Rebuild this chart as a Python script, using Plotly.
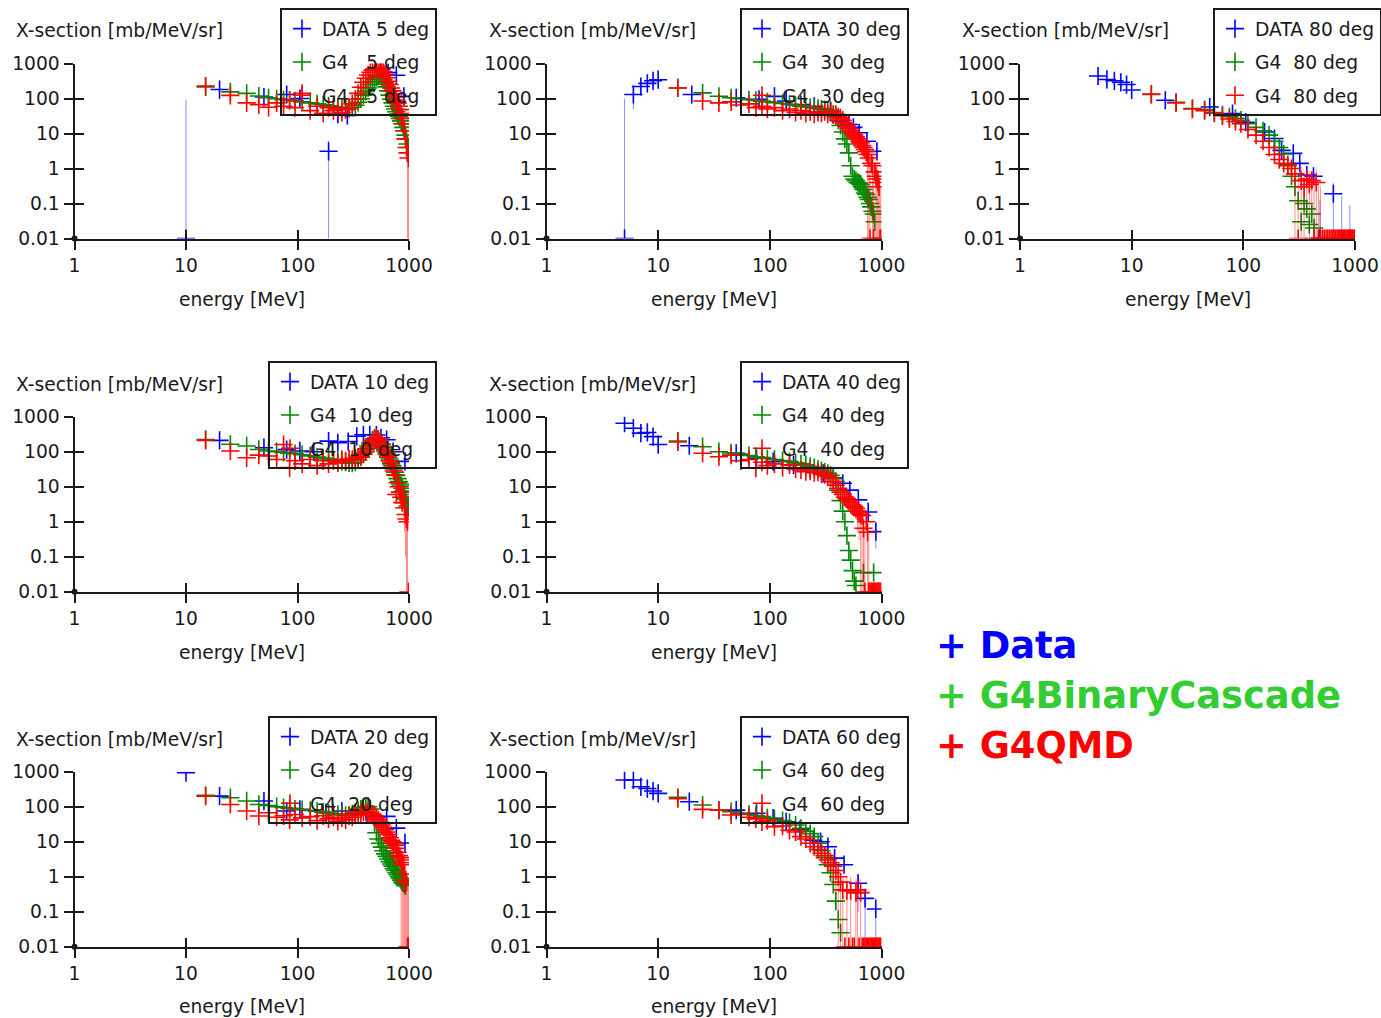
import plotly.graph_objects as go

# ---------------------------------------------------------------- data
E_G4 = [15, 25, 35, 45, 55, 65, 75, 85, 95,
        110, 130, 150, 170, 190, 210, 230, 250, 270, 290,
        310, 330, 350, 370, 390, 410, 430, 450, 470, 490,
        510, 530, 550, 570, 590, 610, 630, 650, 670, 690,
        710, 730, 750, 770, 790, 810, 830, 850, 870, 890,
        910, 930, 950, 970, 990]

X_TICKS = [1, 10, 100, 1000]
X_TICK_TEXT = ["1", "10", "100", "1000"]
Y_TICKS = [0.01, 0.1, 1, 10, 100, 1000]
Y_TICK_TEXT = ["0.01", "0.1", "1", "10", "100", "1000"]

# ---- 5 deg
DATA_E_5 = [10, 20, 50, 80, 105, 190, 230, 280, 560, 650, 770, 900]
DATA_Y_5 = [0.01, 180, 110, 130, 100, 3.1, 36, 33, 700, 550, 460, 115]
DATA_ERR_5 = [93, 8, 6, 7, 6, 3.1, 15, 14, 30, 25, 25, 10]
BIC_5 = [215, 155, 140, 118, 105, 98, 92, 88, 85,
         80, 75, 70, 66, 62, 58, 55, 52, 50, 52,
         56, 64, 78, 98, 125, 160, 200, 250, 300, 350,
         400, 435, 440, 410, 350, 280, 215, 165, 125, 95,
         75, 60, 50, 42, 36, 31, 27, 23, 19, 15,
         12, 9, 7, 5, 4]
QMD_5 = [225, 123, 75, 67, 56, 75, 60, 90, 55,
         140, 45, 60, 38, 55, 45, 50, 40, 48, 55,
         70, 95, 140, 210, 290, 380, 470, 560, 640, 700,
         740, 750, 720, 660, 580, 480, 390, 310, 250, 200,
         165, 135, 110, 90, 74, 60, 48, 37, 27, 19,
         12, 7, 4, 2.8, 2.0]
QMD_ERR_5 = [0] * 49 + [3, 3, 2.5, 2.8, 2.0]

# ---- 30 deg
DATA_E_30 = [5, 6, 7, 8, 9, 10, 20, 50, 80, 110, 140, 190, 250, 350, 430, 510, 560, 630, 740, 910]
DATA_Y_30 = [0.01, 130, 220, 270, 320, 345, 130, 105, 95, 115, 85, 67, 60, 45, 22, 18, 15, 10.5, 6, 3.1]
DATA_ERR_30 = [100, 80, 30, 30, 30, 30, 8, 6, 6, 6, 5, 4, 4, 3, 2, 2, 1.5, 1.2, 1, 0.8]
BIC_30 = [200, 145, 116, 105, 98, 92, 88, 84, 80,
          76, 72, 68, 64, 60, 58, 56, 54, 52, 50,
          48, 46, 42, 35, 30, 24, 17, 11, 7, 5,
          2.8, 1.2, 0.6, 0.5, 0.45, 0.4, 0.38, 0.35, 0.3, 0.25,
          0.2, 0.18, 0.15, 0.13, 0.1, 0.08, 0.06, 0.05, 0.03, None,
          None, None, None, None, None]
QMD_30 = [200, 85, 75, 80, 65, 70, 55, 60, 50,
          55, 45, 50, 40, 45, 38, 42, 36, 40, 38,
          42, 36, 40, 34, 35, 30, 28, 24, 20, 16,
          14, 12, 10, 9, 8, 7, 6, 5.5, 4.5, 4,
          3.5, 3, 2.5, 2, 0.01, 1.4, 1.2, 0.01, 0.8, 0.6,
          0.5, 0.4, 0.3, 0.01, 0.01]
QMD_ERR_30 = [0] * 36 + [1, 1, 1.2, 1.2, 1.5, 2.5, 2, 2, 0.3, 1.4, 1.2, 0.3, 0.8, 0.6, 0.5, 0.4, 0.3, 0.3]

# ---- 80 deg
DATA_E_80 = [5, 6, 7, 8, 9, 10, 20, 50, 80, 105, 155, 190, 220, 280, 320, 370, 425, 485, 640, 760, 900]
DATA_Y_80 = [440, 350, 320, 290, 250, 175, 89, 57, 37, 21, 11, 7.2, 3.3, 2.7, 1.4, 0.65, 0.6, 0.01, 0.19, 0.01, 0.01]
DATA_ERR_80 = [20, 15, 15, 15, 12, 10, 4, 3, 2, 1.2, 0.7, 0.5, 0.3, 0.3, 0.2, 0.15, 0.15, 0.12, 0.19, 0.15, 0.08]
BIC_80 = [130, 78, 52, 48, 40, 34, 30, 27, 24,
          19, 15, 12, 9, 6, 4, 2.6, 1.3, 0.6, 0.3,
          0.12, 0.03, 0.1, 0.07, 0.025, 0.05, 0.02, None, None, None] + [None] * 25
QMD_80 = [133, 75, 50, 45, 38, 32, 26, 22, 19,
          13, 9, 6, 4, 2.5, 1.8, 1.4, 1.2, 1.0, 0.7,
          0.01, 0.45, 0.3, 0.5, 0.35, 0.45, 0.01, 0.4, 0.01, 0.01] + [0.01] * 25
QMD_ERR_80 = [0] * 16 + [0.6, 0.6, 0.7, 0.6, 0.7, 0.5, 0.4, 0.5, 0.4, 0.5, 0.6, 0.4, 0.3] + [0] * 25

# ---- 10 deg
DATA_E_10 = [20, 50, 80, 105, 140, 190, 230, 285, 340, 390, 445, 510, 560, 630, 720, 920]
DATA_Y_10 = [210, 130, 115, 105, 100, 200, 180, 195, 275, 305, 305, 300, 250, 220, 100, 53]
DATA_ERR_10 = [10, 7, 6, 6, 6, 10, 9, 10, 14, 15, 15, 15, 12, 11, 5, 3]
BIC_10 = [224, 163, 146, 116, 105, 100, 95, 90, 88,
          82, 76, 70, 66, 62, 58, 55, 52, 50, 48,
          47, 50, 58, 70, 90, 115, 145, 180, 215, 235,
          230, 215, 190, 165, 140, 115, 95, 78, 62, 50,
          40, 32, 26, 21, 17, 14, 12, 10.5, 9, 7.5,
          6, 4.5, 3.5, 2.8, 2.5]
QMD_10 = [210, 105, 67, 80, 75, 60, 160, 35, 55,
          45, 60, 40, 55, 45, 55, 48, 60, 55, 62,
          60, 65, 70, 75, 85, 100, 125, 160, 200, 235,
          250, 230, 195, 160, 130, 105, 85, 70, 55, 45,
          36, 28, 22, 6, 13, 10, 7, 5, 3.5, 5,
          2.5, 1.6, 1.2, 1.0, 0.01]
QMD_ERR_10 = [0] * 45 + [2, 1.5, 1.5, 1.2, 2, 1.5, 1.2, 1.1, 0]

# ---- 40 deg
DATA_E_40 = [5, 6, 7, 8, 9, 10, 19, 50, 76, 107, 163, 230, 300, 370, 450, 520, 620, 760, 890]
DATA_Y_40 = [650, 470, 340, 355, 270, 160, 148, 90, 65, 52, 42, 32, 24, 18, 12.5, 8, 4.2, 1.9, 0.52]
DATA_ERR_40 = [30, 25, 17, 18, 14, 8, 7, 5, 3, 3, 2, 2, 1.2, 1, 0.7, 0.5, 0.4, 0.4, 0.35]
BIC_40 = [202, 139, 100, 92, 85, 78, 72, 68, 64,
          60, 56, 52, 48, 45, 42, 38, 35, 32, 29,
          26, 24, 21, 17, 14, 8, 4, 2, 1.0, 0.4,
          0.15, 0.08, 0.04, 0.02, 0.015, None, None, None, None, 0.035,
          None, None, None, None, None, None, None, 0.035, None, None,
          None, None, None, None, None]
QMD_40 = [190, 90, 72, 80, 55, 60, 34, 50, 40,
          45, 35, 42, 32, 30, 27, 28, 25, 26, 23,
          22, 20, 18, 14, 11, 9, 7, 6, 5, 4.5,
          4, 3.5, 3, 2.7, 2.4, 2, 1.8, 1.6, 1.5, 0.65,
          0.01, 1.0, 0.5, 0.01, 0.01, 0.01, 0.01, 0.01, 0.01, 0.01,
          0.01, 0.01, 0.01, 0.01, 0.01]
QMD_ERR_40 = [0] * 30 + [1, 1, 1.2, 1.2, 1.5, 1.5, 1.6, 1.6, 1.5, 0.7, 0, 1.0, 0.5] + [0] * 11

# ---- 20 deg
DATA_E_20 = [10, 20, 50, 80, 105, 180, 250, 330, 420, 490, 630, 770, 920]
DATA_Y_20 = [940, 200, 145, 75, 84, 67, 75, 65, 60, 54, 53, 24.5, 9.2]
DATA_ERR_20 = [40, 10, 7, 4, 4, 3, 4, 3, 3, 3, 3, 1.5, 0.8]
BIC_20 = [210, 181, 146, 116, 108, 100, 95, 90, 86,
          82, 78, 74, 70, 66, 63, 60, 58, 57, 58,
          62, 68, 76, 85, 95, 102, 100, 85, 60, 35,
          18, 12, 9, 7, 5.5, 4.5, 3.8, 3.2, 2.7, 2.3,
          2.0, 1.7, 1.5, 1.3, 1.15, 1.0, 0.9, 0.8, 0.7, 0.65,
          0.6, 0.55, None, None, None]
QMD_20 = [200, 116, 75, 54, 67, 50, 55, 42, 60,
          48, 52, 40, 55, 45, 50, 38, 48, 42, 55,
          50, 60, 58, 65, 70, 72, 68, 65, 60, 55,
          48, 42, 36, 30, 26, 22, 19, 16, 13, 11,
          10, 9, 8, 6.5, 5, 4, 3.5, 3, 2.5, 2.2,
          1.2, 0.8, 0.7, 0.01, 0.01]
QMD_ERR_20 = [0] * 44 + [1.5, 2, 3.5, 3, 2.5, 2.2, 1.2, 0.8, 0.7, 0.5]

# ---- 60 deg
DATA_E_60 = [5, 6, 7, 8, 9, 10, 19, 50, 76, 107, 140, 186, 245, 285, 331, 380, 462, 617, 713, 888]
DATA_Y_60 = [580, 580, 370, 330, 280, 240, 139, 80, 65, 47, 37, 22, 11, 10, 7.2, 3.4, 2.2, 0.65, 0.24, 0.12]
DATA_ERR_60 = [25, 25, 17, 15, 13, 11, 7, 4, 3, 2.5, 2, 1.2, 0.7, 0.6, 0.5, 0.3, 0.3, 0.55, 0.24, 0.12]
BIC_60 = [185, 112, 80, 72, 66, 60, 56, 52, 48,
          44, 40, 35, 30, 24, 20, 17, 14, 9, 5.5,
          3.5, 2.2, 1.3, 0.6, 0.2, 0.06, 0.025, None, None, None] + [None] * 25
QMD_60 = [170, 84, 80, 58, 62, 50, 45, 37, 40,
          27, 28, 21, 19, 14, 12, 9, 7.2, 6, 4.7,
          4, 3, 2.5, 2, 1.5, 1.0, 0.7, 0.42, 0.01, 0.4,
          0.01, 0.4, 0.01, 0.01, 0.35, 0.42, 0.01, 0.35, 0.01, 0.01] + [0.01] * 15
QMD_ERR_60 = [0] * 20 + [1, 1, 1.2, 1.2, 1.0, 0.7, 0.5, 0, 0.6, 0, 0.6, 0, 0, 0.5, 0.6, 0, 0.5] + [0] * 17

DATA_E = {5: DATA_E_5, 30: DATA_E_30, 80: DATA_E_80, 10: DATA_E_10, 40: DATA_E_40, 20: DATA_E_20, 60: DATA_E_60}
DATA_Y = {5: DATA_Y_5, 30: DATA_Y_30, 80: DATA_Y_80, 10: DATA_Y_10, 40: DATA_Y_40, 20: DATA_Y_20, 60: DATA_Y_60}
DATA_ERR = {5: DATA_ERR_5, 30: DATA_ERR_30, 80: DATA_ERR_80, 10: DATA_ERR_10, 40: DATA_ERR_40, 20: DATA_ERR_20, 60: DATA_ERR_60}
BIC = {5: BIC_5, 30: BIC_30, 80: BIC_80, 10: BIC_10, 40: BIC_40, 20: BIC_20, 60: BIC_60}
QMD = {5: QMD_5, 30: QMD_30, 80: QMD_80, 10: QMD_10, 40: QMD_40, 20: QMD_20, 60: QMD_60}
QMD_ERR = {5: QMD_ERR_5, 30: QMD_ERR_30, 80: QMD_ERR_80, 10: QMD_ERR_10, 40: QMD_ERR_40, 20: QMD_ERR_20, 60: QMD_ERR_60}

# ---------------------------------------------------------------- layout geometry (pixels)
W, H = 1381, 1018
FONT = "DejaVu Sans"
FS = 18.7
AXC = "#1a1a1a"
BLUE, GREEN, RED = "#0000ff", "#008800", "#ff0000"

PANEL_ORDER = [5, 30, 80, 10, 40, 20, 60]
PANEL_POS = {5: (0, 0), 30: (0, 1), 80: (0, 2), 10: (1, 0), 40: (1, 1), 20: (2, 0), 60: (2, 1)}
COL_PX = [(74.5, 409), (546.5, 881.5), (1020, 1355)]
ROW_PX = [(63.5, 238.5), (416.7, 591.7), (771.7, 946.7)]
LEGEND_PX = {5: (280, 8), 30: (740, 8), 80: (1213, 8), 10: (268, 361), 40: (740, 361), 20: (268, 716), 60: (740, 716)}
YTITLE_X = [14, 487, 960]
YTITLE_Y = [31, 384, 739]
XTITLE_X = [241.5, 713.5, 1187.5]
XTITLE_Y = [299, 652, 1006]


def px(x):
    return x / W


def py(y):
    return 1 - y / H


def marker(color):
    return dict(symbol="cross-thin", size=13, color=color, line=dict(width=1.6, color=color))


fig = go.Figure()
layout = dict(width=W, height=H, margin=dict(l=0, r=0, t=0, b=0, autoexpand=False),
              paper_bgcolor="white", plot_bgcolor="rgba(0,0,0,0)", showlegend=True,
              font=dict(family=FONT, size=FS, color=AXC))
annotations = []

for k, ang in enumerate(PANEL_ORDER, start=1):
    r, c = PANEL_POS[ang]
    x0, x1 = COL_PX[c]
    y0, y1 = ROW_PX[r]
    sfx = "" if k == 1 else str(k)
    osfx = str(k + 7)
    xref, yref = "x" + sfx, "y" + sfx
    oxref, oyref = "x" + osfx, "y" + osfx
    leg = "legend" + sfx

    common = dict(showgrid=False, zeroline=False, fixedrange=True, tickcolor=AXC, tickwidth=2, ticklen=9,
                  tickmode="array", tickfont=dict(family=FONT, size=FS, color=AXC), type="log")
    layout["xaxis" + sfx] = dict(common, domain=[px(x0), px(x1)], anchor=yref, range=[0, 3],
                                 showline=True, linecolor=AXC, linewidth=2, ticks="outside",
                                 tickvals=X_TICKS, ticktext=X_TICK_TEXT)
    layout["yaxis" + sfx] = dict(common, domain=[py(y1), py(y0)], anchor=xref, range=[-2, 3],
                                 showline=True, linecolor=AXC, linewidth=2, ticks="outside",
                                 tickvals=Y_TICKS, ticktext=Y_TICK_TEXT)
    # overlay axes carrying the inner half of the crossing ticks
    layout["xaxis" + osfx] = dict(common, overlaying=xref, anchor=yref, range=[0, 3], showline=False,
                                  ticks="inside", tickvals=X_TICKS, showticklabels=False)
    layout["yaxis" + osfx] = dict(common, overlaying=yref, anchor=xref, range=[-2, 3], showline=False,
                                  ticks="inside", tickvals=Y_TICKS, showticklabels=False)

    pad = "\u00a0" * (3 if ang < 10 else 2)
    fig.add_trace(go.Scatter(
        x=DATA_E[ang], y=DATA_Y[ang], mode="markers", marker=marker(BLUE),
        error_y=dict(type="data", array=DATA_ERR[ang], symmetric=True, color="rgba(0,0,255,0.45)",
                     thickness=1, width=0),
        name=f"DATA {ang} deg", legend=leg, legendgroup=f"d{ang}", xaxis=xref, yaxis=yref,
        hoverinfo="skip"))
    fig.add_trace(go.Scatter(
        x=E_G4, y=BIC[ang], mode="markers", marker=marker(GREEN),
        name=f"G4{pad}{ang} deg", legend=leg, legendgroup=f"b{ang}", xaxis=xref, yaxis=yref,
        hoverinfo="skip"))
    fig.add_trace(go.Scatter(
        x=E_G4, y=QMD[ang], mode="markers", marker=marker(RED),
        error_y=dict(type="data", array=QMD_ERR[ang], symmetric=True, color="rgba(255,0,0,0.45)",
                     thickness=1, width=0),
        name=f"G4{pad}{ang} deg", legend=leg, legendgroup=f"q{ang}", xaxis=xref, yaxis=yref,
        hoverinfo="skip"))
    # axis origin dot (lives on the overlay axes so they get drawn)
    fig.add_trace(go.Scatter(
        x=[X_TICKS[0]], y=[Y_TICKS[0]], mode="markers", cliponaxis=False,
        marker=dict(symbol="circle", size=6, color=AXC), showlegend=False,
        xaxis=oxref, yaxis=oyref, hoverinfo="skip"))

    lx, ly = LEGEND_PX[ang]
    layout[leg] = dict(x=px(lx), y=py(ly), xanchor="left", yanchor="top", bgcolor="rgba(0,0,0,0)",
                       bordercolor=AXC, borderwidth=2, tracegroupgap=6,
                       font=dict(family=FONT, size=FS, color=AXC))

    annotations.append(dict(text="X-section [mb/MeV/sr]", xref="paper", yref="paper",
                            x=px(YTITLE_X[c]), y=py(YTITLE_Y[r]), xanchor="left", yanchor="middle",
                            showarrow=False, font=dict(family=FONT, size=FS, color=AXC)))
    annotations.append(dict(text="energy [MeV]", xref="paper", yref="paper",
                            x=px(XTITLE_X[c]), y=py(XTITLE_Y[r]), xanchor="center", yanchor="middle",
                            showarrow=False, font=dict(family=FONT, size=FS, color=AXC)))

# big model key
KEY_TEXT = ["+ Data", "+ G4BinaryCascade", "+ G4QMD"]
KEY_COLORS = ["#0000ff", "#33cc33", "#ff0000"]
KEY_Y = [645, 695, 745]
for t, col, yy in zip(KEY_TEXT, KEY_COLORS, KEY_Y):
    annotations.append(dict(text=f"<b>{t}</b>", xref="paper", yref="paper", x=px(934), y=py(yy),
                            xanchor="left", yanchor="middle", showarrow=False,
                            font=dict(family="DejaVu Sans", size=36.8, color=col)))

layout["annotations"] = annotations
fig.update_layout(**layout)

fig.write_html("out.html", include_plotlyjs=True, full_html=True,
               config={"displayModeBar": False, "staticPlot": True},
               post_script="document.body.style.margin='0';document.body.style.overflow='hidden';")
